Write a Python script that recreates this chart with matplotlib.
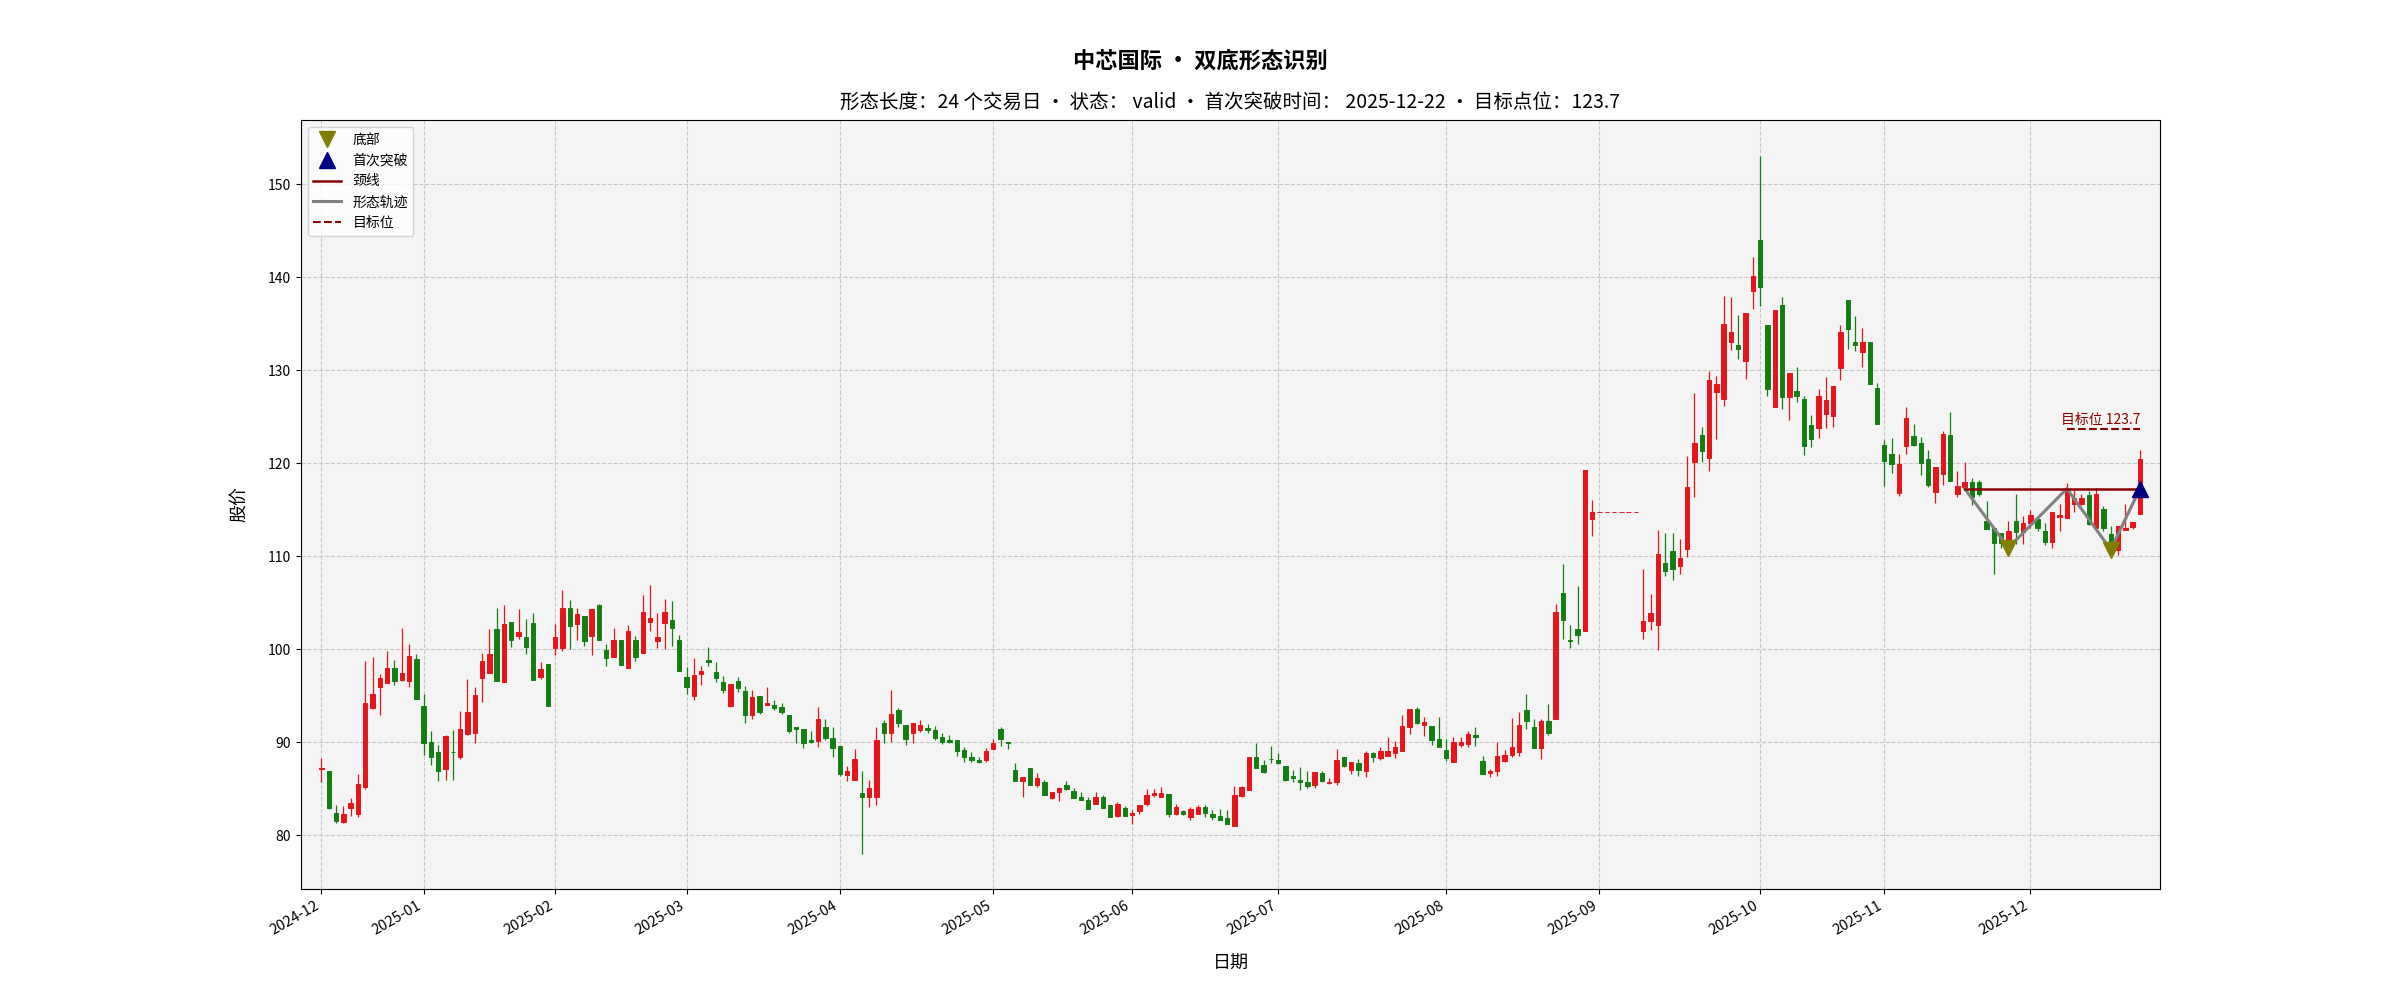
import numpy as np
import pandas as pd
import matplotlib
matplotlib.use("Agg")
import matplotlib.pyplot as plt
from matplotlib.lines import Line2D

plt.rcParams['font.family'] = ['Noto Sans CJK SC', 'DejaVu Sans']
plt.rcParams['axes.unicode_minus'] = False

# ---------------- data ----------------
start_date = '2024-12-12'
end_date = '2025-12-22'
holidays = ['2025-01-01', '2025-01-28', '2025-01-29', '2025-01-30', '2025-01-31',
            '2025-02-03', '2025-02-04', '2025-04-04', '2025-05-01', '2025-05-02',
            '2025-05-05', '2025-06-02', '2025-10-01', '2025-10-02', '2025-10-03',
            '2025-10-06', '2025-10-07', '2025-10-08']

opens = [
    87.1, 86.9, 82.38, 81.39, 82.88, 82.31, 85.12, 93.67, 95.91, 96.4,
    98.0, 96.73, 96.55, 98.97, 93.84, 90.04, 88.9, 87.12, 88.95, 88.4,
    90.82, 91.0, 96.87, 97.4, 102.17, 96.44, 102.9, 101.46, 101.28, 102.8,
    97.05, 98.4, 100.07, 100.07, 104.38, 102.74, 103.56, 101.46, 104.73, 99.89,
    99.18, 101.0, 97.94, 101.0, 99.54, 102.95, 100.82, 102.77, 103.1, 101.0,
    97.05, 94.91, 97.3, 98.86, 97.58, 96.44, 93.88, 96.55, 95.45, 92.88,
    94.91, 93.95, 93.95, 93.77, 92.95, 91.6, 91.46, 90.21, 90.11, 91.64,
    90.39, 89.57, 86.44, 85.94, 84.52, 84.05, 84.05, 92.06, 90.93, 93.49,
    91.82, 91.0, 91.28, 91.53, 91.35, 90.57, 90.21, 90.21, 89.1, 88.41,
    88.05, 88.05, 89.3, 91.42, 90.0, 87.02, 85.78, 87.2, 85.43, 85.75,
    84.01, 84.6, 85.4, 84.79, 84.08, 83.8, 83.3, 84.08, 83.2, 82.02,
    82.95, 82.13, 82.59, 83.37, 84.26, 84.08, 84.43, 82.31, 82.6, 81.95,
    82.31, 83.02, 82.24, 82.02, 81.81, 81.0, 84.15, 84.9, 88.41, 87.55,
    88.2, 88.05, 87.45, 86.38, 85.96, 85.66, 85.41, 86.63, 85.55, 85.66,
    88.35, 87.02, 87.7, 86.91, 88.81, 88.28, 88.53, 88.78, 88.99, 91.64,
    93.58, 91.86, 91.68, 90.32, 89.14, 87.81, 89.68, 89.78, 90.75, 87.99,
    86.63, 86.92, 87.99, 88.6, 88.89, 93.44, 91.65, 89.35, 92.22, 92.47,
    106.0, 100.97, 102.15, 101.9, 114.01, 114.76, 114.76, 114.76, 114.76, 114.76,
    114.76, 101.9, 102.98, 102.55, 109.24, 110.6, 108.89, 110.79, 120.1, 123.03,
    120.56, 127.62, 126.9, 132.99, 132.74, 130.95, 138.47, 144.02, 134.89, 126.0,
    137.04, 127.15, 127.8, 126.9, 124.1, 123.75, 125.33, 125.08, 130.28, 137.53,
    133.05, 131.99, 133.03, 128.05, 121.96, 120.93, 116.81, 121.88, 122.88, 122.16,
    120.48, 116.94, 118.83, 122.98, 116.69, 117.39, 117.93, 117.96, 113.82, 113.04,
    112.5, 111.32, 113.75, 112.6, 113.57, 114.0, 112.75, 111.54, 114.18, 114.11,
    115.61, 115.61, 116.54, 113.04, 115.11, 112.39, 110.71, 112.86, 113.11, 114.54,
]
highs = [
    88.25, 86.9, 83.24, 83.1, 84.0, 86.55, 98.75, 99.1, 97.33, 99.82,
    98.86, 102.3, 100.53, 99.5, 95.2, 91.17, 89.68, 90.75, 91.28, 93.34,
    96.8, 95.9, 99.6, 102.2, 104.4, 104.7, 102.9, 104.27, 103.2, 103.9,
    98.6, 98.4, 102.67, 106.4, 105.23, 104.45, 103.56, 104.3, 104.88, 100.53,
    102.3, 101.0, 102.56, 101.4, 105.87, 106.87, 103.85, 105.44, 105.16, 101.5,
    98.04, 99.04, 98.2, 100.18, 98.6, 97.15, 96.2, 96.97, 95.98, 95.6,
    94.91, 95.9, 94.48, 94.2, 92.95, 91.6, 91.46, 91.2, 93.77, 92.53,
    91.64, 89.57, 87.4, 89.22, 86.94, 85.94, 91.64, 92.35, 95.55, 93.7,
    91.82, 92.0, 92.4, 91.9, 91.7, 90.93, 90.75, 90.21, 89.43, 88.97,
    88.44, 89.33, 90.3, 91.6, 90.0, 87.73, 86.28, 87.2, 86.63, 85.9,
    84.68, 85.22, 85.86, 85.04, 84.61, 84.08, 84.61, 84.26, 83.2, 83.55,
    83.12, 82.66, 83.2, 84.97, 84.97, 85.15, 84.43, 83.37, 82.73, 83.02,
    83.2, 83.2, 82.66, 82.84, 82.66, 85.32, 85.32, 88.44, 89.93, 88.05,
    89.58, 88.8, 87.45, 87.0, 87.27, 86.84, 86.73, 86.84, 86.12, 89.24,
    88.42, 87.88, 88.17, 88.99, 88.96, 89.42, 90.57, 90.14, 92.94, 93.55,
    93.73, 92.65, 91.75, 92.72, 90.32, 90.5, 90.5, 91.22, 91.65, 88.53,
    87.1, 89.96, 89.14, 92.58, 93.19, 95.16, 92.47, 92.47, 94.08, 104.9,
    109.2, 102.6, 106.74, 119.25, 116.0, 114.76, 114.76, 114.76, 114.76, 114.76,
    114.76, 108.6, 105.95, 112.8, 112.47, 112.47, 111.86, 120.8, 127.5, 123.86,
    129.87, 129.4, 138.0, 137.9, 135.96, 136.1, 142.12, 153.05, 134.89, 136.47,
    137.9, 129.66, 130.3, 127.26, 125.22, 127.98, 129.25, 128.3, 134.85, 137.53,
    135.83, 134.58, 133.03, 128.61, 122.47, 122.72, 121.0, 126.0, 124.2, 122.84,
    121.45, 119.55, 123.42, 125.49, 119.19, 120.12, 118.4, 118.18, 115.96, 113.04,
    112.5, 113.75, 116.68, 114.29, 115.0, 114.29, 113.57, 114.71, 115.61, 117.86,
    117.14, 116.68, 116.96, 117.32, 115.36, 113.21, 113.21, 115.61, 113.68, 121.36,
]
lows = [
    85.66, 82.8, 81.32, 81.3, 82.1, 81.96, 85.0, 93.6, 92.88, 96.4,
    96.1, 96.55, 95.9, 94.59, 88.6, 87.54, 85.77, 85.94, 85.94, 88.15,
    90.8, 89.86, 94.3, 97.4, 96.55, 96.44, 100.25, 101.1, 99.47, 96.73,
    96.8, 93.88, 99.36, 99.82, 100.0, 100.96, 100.36, 99.36, 101.0, 98.22,
    99.18, 98.29, 97.94, 98.75, 99.54, 101.96, 100.07, 100.0, 100.36, 97.69,
    95.2, 94.56, 96.1, 98.2, 96.44, 95.27, 93.77, 95.4, 92.06, 92.53,
    93.06, 93.95, 93.5, 93.0, 90.93, 89.86, 89.32, 89.93, 89.43, 90.21,
    88.36, 86.3, 85.84, 85.94, 77.93, 83.03, 83.2, 89.86, 90.04, 91.64,
    89.68, 89.86, 91.1, 91.0, 90.21, 89.79, 89.86, 88.5, 87.9, 87.9,
    87.7, 87.87, 89.3, 89.58, 89.22, 85.78, 84.08, 85.43, 85.22, 84.36,
    83.9, 83.66, 84.9, 84.01, 83.73, 82.77, 83.3, 82.95, 81.95, 81.95,
    82.02, 81.24, 82.3, 83.09, 84.08, 84.08, 81.95, 82.2, 82.13, 81.67,
    82.24, 81.95, 81.67, 81.6, 81.17, 81.0, 84.08, 84.9, 87.17, 86.63,
    87.8, 87.62, 85.85, 85.66, 84.86, 85.05, 85.05, 85.66, 85.48, 85.41,
    87.27, 86.56, 86.38, 86.2, 87.81, 88.06, 88.53, 88.28, 88.99, 90.86,
    91.94, 90.68, 89.72, 89.43, 88.0, 87.81, 89.5, 89.5, 89.6, 86.56,
    86.2, 86.38, 87.9, 88.35, 88.53, 91.4, 89.35, 88.17, 90.79, 92.47,
    101.07, 100.1, 100.54, 101.9, 112.2, 114.76, 114.76, 114.76, 114.76, 114.76,
    114.76, 101.1, 102.0, 99.9, 107.9, 107.45, 108.1, 109.9, 116.4, 120.1,
    119.13, 122.6, 126.19, 132.2, 131.2, 129.05, 136.57, 136.93, 127.26, 126.0,
    125.83, 124.65, 126.55, 120.92, 121.78, 122.71, 123.8, 123.93, 128.97, 132.25,
    132.05, 130.31, 128.48, 124.19, 117.5, 118.96, 116.45, 120.98, 121.8, 118.77,
    117.42, 115.67, 117.7, 118.08, 116.39, 117.21, 115.46, 116.43, 112.96, 108.11,
    110.9, 111.18, 111.32, 111.32, 113.04, 112.68, 111.18, 110.9, 112.68, 114.11,
    114.75, 115.46, 113.32, 113.04, 112.68, 110.71, 110.11, 112.86, 112.96, 114.54,
]
closes = [
    87.2, 82.95, 81.46, 82.31, 83.45, 85.51, 94.24, 95.2, 96.87, 97.97,
    96.6, 97.44, 99.29, 94.59, 89.93, 88.36, 86.94, 90.64, 88.9, 91.39,
    93.2, 95.02, 98.75, 99.46, 96.55, 102.74, 100.93, 101.85, 100.18, 96.73,
    97.9, 93.88, 101.28, 104.38, 102.45, 103.81, 100.82, 104.3, 101.0, 99.0,
    101.0, 98.29, 101.96, 99.1, 103.99, 103.31, 101.32, 103.99, 102.31, 97.69,
    95.91, 97.26, 97.6, 98.6, 96.9, 95.55, 96.2, 95.84, 92.88, 94.84,
    93.24, 94.2, 93.67, 93.24, 91.17, 91.46, 89.86, 90.04, 92.53, 90.39,
    89.32, 86.55, 86.9, 88.15, 84.05, 85.05, 90.21, 90.93, 93.0, 92.0,
    90.32, 92.0, 91.82, 91.28, 90.39, 90.04, 90.0, 89.07, 88.4, 88.05,
    87.9, 89.05, 89.9, 90.36, 89.86, 85.78, 86.28, 85.43, 86.1, 84.36,
    84.68, 85.04, 84.97, 84.01, 83.8, 82.77, 84.08, 82.95, 81.95, 83.37,
    82.02, 82.42, 83.2, 84.33, 84.54, 84.5, 82.24, 83.02, 82.31, 82.77,
    83.02, 82.38, 81.95, 81.6, 81.17, 84.26, 85.15, 88.44, 87.17, 86.81,
    88.16, 87.7, 85.96, 86.12, 85.66, 85.3, 86.73, 85.77, 85.73, 88.1,
    87.38, 87.88, 87.02, 88.81, 88.42, 88.99, 89.06, 89.42, 91.75, 93.54,
    92.08, 92.19, 90.25, 89.43, 88.24, 89.96, 90.04, 90.86, 90.5, 86.56,
    86.92, 88.53, 88.64, 89.5, 91.86, 92.22, 89.35, 92.29, 90.93, 103.94,
    103.1, 100.82, 101.5, 119.25, 114.76, 114.76, 114.76, 114.76, 114.76, 114.76,
    114.76, 102.98, 103.9, 110.25, 108.4, 108.64, 109.82, 117.41, 122.14, 121.35,
    128.94, 128.51, 134.96, 134.14, 132.27, 136.1, 140.15, 138.9, 127.98, 136.47,
    127.15, 129.66, 127.26, 121.89, 122.58, 127.23, 126.82, 128.3, 134.12, 134.43,
    132.66, 133.03, 128.48, 124.19, 120.21, 119.86, 119.86, 124.85, 121.98, 119.98,
    117.69, 119.55, 123.13, 118.08, 117.58, 117.95, 116.32, 116.68, 112.96, 111.43,
    111.43, 112.68, 112.6, 113.57, 114.39, 113.04, 111.54, 114.71, 114.43, 117.25,
    116.25, 116.25, 113.46, 116.68, 113.04, 110.71, 113.21, 113.04, 113.68, 120.43,
]

# pattern (double bottom)
pattern_dates = ['2025-11-18', '2025-11-26', '2025-12-08', '2025-12-16', '2025-12-22']
pattern_prices = [117.25, 110.9, 117.25, 110.7, 117.25]
bottom_dates = ['2025-11-26', '2025-12-16']
bottom_prices = [110.9, 110.7]
breakout_date = '2025-12-22'
breakout_price = 117.25
neckline_price = 117.25
neckline_dates = ['2025-11-18', '2025-12-22']
target_price = 123.7
target_dates = ['2025-12-08', '2025-12-22']

title_text = '中芯国际 • 双底形态识别'
subtitle_text = '形态长度：24 个交易日 · 状态： valid · 首次突破时间： 2025-12-22 · 目标点位：123.7'

# ---------------- build ----------------
dates = pd.bdate_range(start_date, end_date, freq='C', holidays=holidays)
n = len(dates)
o = np.array(opens); h = np.array(highs); l = np.array(lows); c = np.array(closes)
h = np.maximum(h, np.maximum(o, c)); l = np.minimum(l, np.minimum(o, c))
x = np.arange(n)
pos = {d.strftime('%Y-%m-%d'): i for i, d in enumerate(dates)}

UP = '#e8141b'
DOWN = '#137f13'
cols = np.where(c >= o, UP, DOWN)

fig = plt.figure(figsize=(24, 10), dpi=100)
ax = fig.add_axes([0.1254, 0.111, 0.9 - 0.1254, 0.88 - 0.111])
ax.set_facecolor('#f4f4f4')
ax.grid(True, linestyle='--', color='#c8c8c8', linewidth=0.8)
ax.set_axisbelow(True)

ax.vlines(x, l, h, colors=cols, linewidth=0.9, zorder=2)
ax.bar(x, np.abs(c - o), bottom=np.minimum(o, c), width=0.6, color=cols,
       edgecolor=cols, linewidth=0.7, zorder=3)

px = [pos[d] for d in pattern_dates]
ax.plot(px, pattern_prices, color='gray', linewidth=2.2, zorder=4)
ax.plot([pos[d] for d in neckline_dates], [neckline_price] * 2, color='darkred',
        linewidth=1.8, zorder=4)
ax.plot([pos[d] for d in target_dates], [target_price] * 2, color='darkred',
        linewidth=1.5, linestyle='--', zorder=4)
ax.text(pos[target_dates[1]], target_price + 0.15, f'目标位 {target_price}',
        ha='right', va='bottom', color='darkred', fontsize=10, zorder=5)
ax.plot([pos[d] for d in bottom_dates], bottom_prices, linestyle='none', marker='v',
        markersize=11, color='olive', zorder=5)
ax.plot([pos[breakout_date]], [breakout_price], linestyle='none', marker='^',
        markersize=11, color='navy', zorder=5)

# axes
ax.set_xlim(-2.8, 251.75)
ax.set_ylim(74.2, 156.9)
months = pd.Series(x, index=dates)
first_idx = months.groupby(dates.strftime('%Y-%m')).min()
ax.set_xticks(first_idx.values)
ax.set_xticklabels(first_idx.index, rotation=30, ha='right', fontsize=10.5)
ax.tick_params(axis='y', labelsize=10)
ax.set_xlabel('日期', fontsize=13, labelpad=12)
ax.set_ylabel('股价', fontsize=13, labelpad=14)

fig.suptitle(title_text, fontsize=16, fontweight='bold', y=0.95)
ax.set_title(subtitle_text, fontsize=14, pad=9)

handles = [
    Line2D([], [], linestyle='none', marker='v', markersize=11, color='olive', label='底部'),
    Line2D([], [], linestyle='none', marker='^', markersize=11, color='navy', label='首次突破'),
    Line2D([], [], color='darkred', linewidth=1.8, label='颈线'),
    Line2D([], [], color='gray', linewidth=2.2, label='形态轨迹'),
    Line2D([], [], color='darkred', linewidth=1.5, linestyle='--', label='目标位'),
]
ax.legend(handles=handles, loc='upper left', fontsize=10)

fig.savefig('out.png', dpi=100)
